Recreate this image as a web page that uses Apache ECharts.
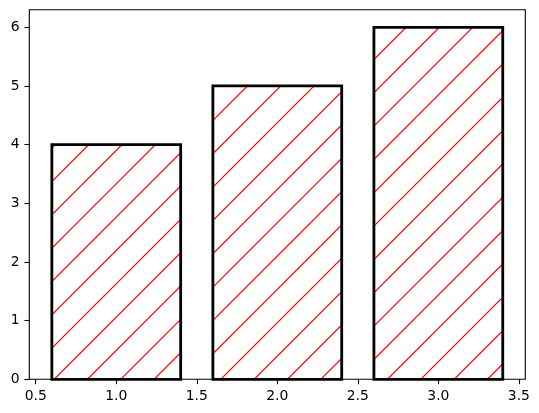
<!DOCTYPE html>
<html>
<head>
<meta charset="utf-8">
<script src="https://cdn.jsdelivr.net/npm/echarts@6/dist/echarts.min.js"></script>
<style>
html,body{margin:0;padding:0;background:#fff;}
#c{width:539px;height:413px;position:absolute;left:0;top:0;}
</style>
</head>
<body>
<div id="c"></div>
<script>
// Data
const xPositions = [1, 2, 3];
const barHeights = [4, 5, 6];
const xTickValues = [0.5, 1.0, 1.5, 2.0, 2.5, 3.0, 3.5];
const yTickValues = [0, 1, 2, 3, 4, 5, 6];
const barWidthUnits = 0.8;

// Hatch pattern tile ("/" lines, red)
const tile = document.createElement('canvas');
tile.width = 100; tile.height = 100;
(function(){
  const ctx = tile.getContext('2d');
  ctx.strokeStyle = '#ff0000';
  ctx.lineWidth = 1.2;
  for (let k = -1; k <= 7; k++) {
    const c = k * 100 / 3;
    ctx.beginPath();
    ctx.moveTo(c + 20, -20);
    ctx.lineTo(c - 120, 120);
    ctx.stroke();
  }
})();

const chart = echarts.init(document.getElementById('c'), null, {renderer: 'canvas'});
const font = 'DejaVu Sans';
const option = {
  animation: false,
  backgroundColor: '#fff',
  grid: {
    left: 29.3, top: 9.7, width: 496, height: 369.6,
    show: true, borderColor: '#000', borderWidth: 1.1, backgroundColor: 'transparent',
    containLabel: false
  },
  xAxis: {
    type: 'value', min: 0.46, max: 3.54,
    axisLine: {show: false},
    splitLine: {show: false},
    axisTick: {show: true, length: 4.9, lineStyle: {color: '#000', width: 1.1}, customValues: xTickValues},
    axisLabel: {show: true, margin: 9.7, color: '#000', fontFamily: font, fontSize: 13.9,
      customValues: xTickValues, formatter: v => Number(v).toFixed(1)}
  },
  yAxis: {
    type: 'value', min: 0, max: 6.3,
    axisLine: {show: false},
    splitLine: {show: false},
    axisTick: {show: true, length: 4.9, lineStyle: {color: '#000', width: 1.1}, customValues: yTickValues},
    axisLabel: {show: true, margin: 9.8, color: '#000', fontFamily: font, fontSize: 13.9,
      customValues: yTickValues, formatter: v => String(Math.round(v))}
  },
  series: [{
    type: 'custom',
    data: xPositions.map((x, i) => [x, barHeights[i]]),
    encode: {x: 0, y: 1},
    renderItem: function(params, api) {
      const x = api.value(0), h = api.value(1);
      const p1 = api.coord([x - barWidthUnits / 2, h]);
      const p2 = api.coord([x + barWidthUnits / 2, 0]);
      return {
        type: 'rect',
        shape: {x: p1[0], y: p1[1], width: p2[0] - p1[0], height: p2[1] - p1[1]},
        style: {
          fill: {image: tile, repeat: 'repeat'},
          stroke: '#000', lineWidth: 2.8, lineJoin: 'miter'
        }
      };
    }
  }]
};
chart.setOption(option);
</script>
</body>
</html>
